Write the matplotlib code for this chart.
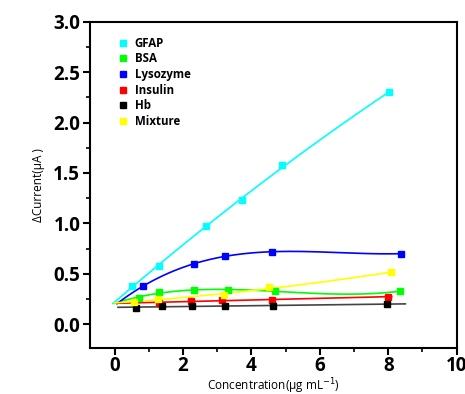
import numpy as np
import matplotlib
matplotlib.use("Agg")
import matplotlib.pyplot as plt
from matplotlib.ticker import MultipleLocator

plt.rcParams['font.family'] = ['Open Sans', 'DejaVu Sans']

# data
gfap_x = [0.51, 1.30, 2.66, 3.73, 4.90, 8.03]
gfap_y = [0.38, 0.58, 0.97, 1.23, 1.58, 2.30]
bsa_x = [0.71, 1.30, 2.31, 3.32, 4.69, 8.33]
bsa_y = [0.265, 0.32, 0.337, 0.34, 0.33, 0.327]
lyso_x = [0.82, 2.32, 3.23, 4.59, 8.38]
lyso_y = [0.377, 0.595, 0.68, 0.717, 0.70]
ins_x = [1.30, 2.22, 3.14, 4.59, 8.00]
ins_y = [0.21, 0.235, 0.238, 0.24, 0.274]
hb_x = [0.62, 1.38, 2.25, 3.22, 4.64, 7.97]
hb_y = [0.165, 0.178, 0.18, 0.18, 0.185, 0.20]
mix_x = [0.57, 1.27, 3.21, 4.51, 8.09]
mix_y = [0.225, 0.25, 0.288, 0.367, 0.516]

series = [
    ("GFAP", gfap_x, gfap_y, "#00FFFF", 2, (-0.05, 8.03)),
    ("BSA", bsa_x, bsa_y, "#00FF00", 3, (0.0, 8.33)),
    ("Lysozyme", lyso_x, lyso_y, "#0000FF", 3, (0.07, 8.38)),
    ("Insulin", ins_x, ins_y, "#FF0000", 1, (0.1, 8.1)),
    ("Hb", hb_x, hb_y, "#000000", 1, (0.1, 8.5)),
    ("Mixture", mix_x, mix_y, "#FFFF00", 2, (0.0, 8.09)),
]

fig = plt.figure(figsize=(4.65, 3.94), dpi=100)
ax = fig.add_axes([0.1935, 0.1168, 0.7885, 0.8282])

for name, xs, ys, col, deg, rng in series:
    c = np.polyfit(xs, ys, deg)
    xx = np.linspace(rng[0], rng[1], 200)
    lc = "#444444" if name == "Hb" else col
    ax.plot(xx, np.polyval(c, xx), color=lc, lw=1.2, zorder=2)

for name, xs, ys, col, deg, rng in series:
    ax.plot(xs, ys, 's', color=col, ms=5, label=name, zorder=3)

ax.set_xlim(-0.72, 10)
ax.set_ylim(-0.235, 3.0)
ax.xaxis.set_major_locator(MultipleLocator(2))
ax.xaxis.set_minor_locator(MultipleLocator(1))
ax.yaxis.set_major_locator(MultipleLocator(0.5))
ax.yaxis.set_minor_locator(MultipleLocator(0.25))
ax.tick_params(which='major', direction='out', length=5, width=1.5, labelsize=13.5, pad=2)
ax.tick_params(axis='x', which='major', pad=1)
ax.tick_params(which='minor', direction='out', length=3, width=1.2)
for lab in ax.get_xticklabels() + ax.get_yticklabels():
    lab.set_fontweight('bold')
for sp in ax.spines.values():
    sp.set_linewidth(1.5)

ax.set_xlabel("Concentration(μg mL$^{-1}$)", fontsize=8.5, labelpad=0)
ax.set_ylabel("ΔCurrent(μA )", fontsize=8.5, labelpad=6)

leg = ax.legend(loc='upper left', bbox_to_anchor=(0.05, 0.985), frameon=False,
                handlelength=0.8, handletextpad=0.6, labelspacing=0.22,
                prop={'size': 8.3, 'weight': 'bold'}, markerscale=0.8)

fig.savefig("out.png", dpi=100)
